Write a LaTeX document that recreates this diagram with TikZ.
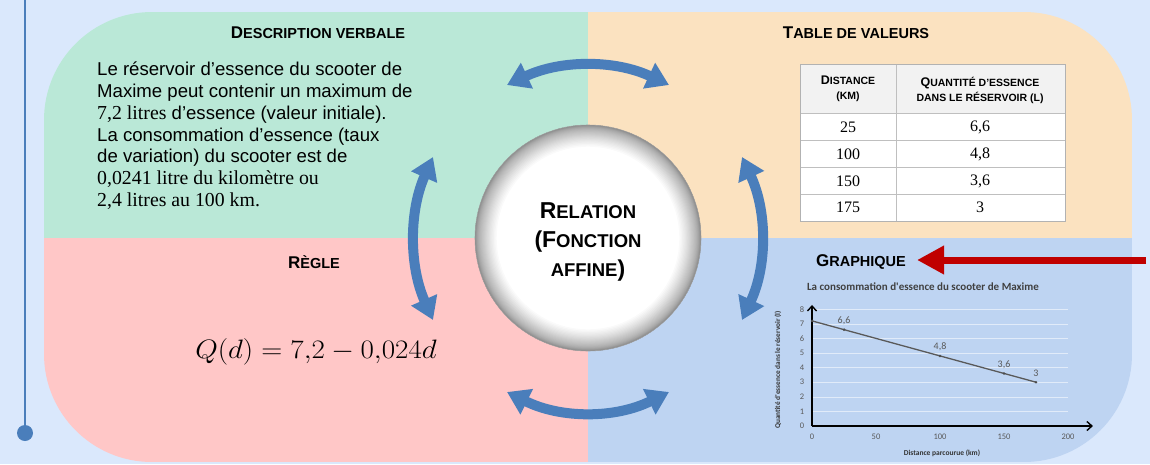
\documentclass[tikz,border=0pt]{standalone}
\usepackage{fontspec}
\usepackage{graphicx}
\setmainfont{Liberation Sans}
\newfontfamily\numfont{Liberation Serif}
\newfontfamily\chartfont{Carlito}
\usetikzlibrary{arrows.meta}

\definecolor{bgblue}{RGB}{218,232,252}
\definecolor{qgreen}{RGB}{186,232,215}
\definecolor{qorange}{RGB}{251,226,192}
\definecolor{qpink}{RGB}{255,199,199}
\definecolor{qblue}{RGB}{190,212,242}
\definecolor{linkblue}{RGB}{74,126,187}
\definecolor{alertred}{RGB}{192,0,0}
\definecolor{chartgray}{RGB}{89,89,89}
\definecolor{tablerule}{RGB}{191,191,191}
\definecolor{tablehead}{RGB}{242,242,242}

% one size for a run of letters (used for the small-caps look)
\newcommand\sz[2]{{\fontsize{#1}{#1}\selectfont #2}}

\begin{document}
\begin{tikzpicture}[x=1pt,y=-1pt,
  heading/.style={font=\bfseries, inner sep=0pt},
  twoway/.style={draw=linkblue, line width=10pt,
    {Triangle[width=27pt,length=22pt]}-{Triangle[width=27pt,length=22pt]}},
  cell/.style={inner sep=0pt, font=\numfont\fontsize{16}{16}\selectfont},
  headcell/.style={inner sep=0pt, align=center, font=\bfseries\fontsize{10.5}{15}\selectfont},
  ticklbl/.style={inner sep=0pt, text=chartgray, font=\chartfont\fontsize{8.5}{8.5}\selectfont},
  ptlbl/.style={inner sep=0pt, text=chartgray, font=\chartfont\fontsize{10}{10}\selectfont},
  axisline/.style={draw=black, line width=1.4pt, -{Straight Barb[length=5pt,width=9pt]}},
]
\useasboundingbox (0,0) rectangle (1150,464);
\fill[bgblue] (0,0) rectangle (1150,464);

% timeline on the left
\node[circle, fill=linkblue, minimum size=16pt, inner sep=0pt] (dot) at (25,433) {};
\coordinate (linetop) at (25,0);
\draw[linkblue, line width=2.5pt] (linetop) -- (dot.center);

% four coloured quadrants inside one rounded panel
\begin{scope}
  \clip[rounded corners=108pt] (44,12) rectangle (1132,462);
  \fill[qgreen]  (44,12)   rectangle (588,238);
  \fill[qorange] (588,12)  rectangle (1132,238);
  \fill[qpink]   (44,238)  rectangle (588,462);
  \fill[qblue]   (588,238) rectangle (1132,462);
\end{scope}

% headings
\node[heading] (hdesc) at (318,33) {\sz{17}{D}\sz{14.5}{ESCRIPTION VERBALE}};
\node[heading] (htable) at (856,33) {\sz{17}{T}\sz{14.5}{ABLE DE VALEURS}};
\node[heading] (hregle) at (314,262) {\sz{17}{R}\sz{14.5}{ÈGLE}};
\node[heading] (hgraph) at (861,262) {\sz{17}{G}\sz{14.5}{RAPHIQUE}};

% verbal description
\node[anchor=north west, inner sep=0pt, align=left,
      font=\fontsize{18.6}{21.7}\selectfont] (desc) at (97,62) {%
Le réservoir d’essence du scooter de\\
Maxime peut contenir un maximum de\\
{\numfont\fontsize{19.8}{21.7}\selectfont 7,2 litres} d’essence (valeur initiale).\\
La consommation d’essence (taux\\
de variation) du scooter est de\\
{\numfont\fontsize{19.8}{21.7}\selectfont 0,0241 litre du kilomètre ou}\\
{\numfont\fontsize{19.8}{21.7}\selectfont 2,4 litres au 100 km.}};

% rule
\node[inner sep=0pt, font=\fontsize{24.88}{26}\selectfont] (rule) at (316,352)
  {\scalebox{1.17}[1.07]{$Q(d)=7{,}2-0{,}024d$}};

% table of values
\fill[tablehead] (800,64) rectangle (1065,113);
\fill[white] (800,113) rectangle (1065,221);
\foreach \yy in {113,140,167,194}
  \draw[tablerule, line width=0.8pt] (800,\yy) -- (1065,\yy);
\draw[tablerule, line width=0.8pt] (896,64) -- (896,221);
\draw[black!30, line width=1pt] (800,64) rectangle (1065,221);
\node[headcell] (th1) at (848,89) {\sz{12.5}{D}ISTANCE\\(KM)};
\node[headcell] (th2) at (980,90) {\sz{12.5}{Q}UANTITÉ D’ESSENCE\\DANS LE RÉSERVOIR (L)};
\node[cell] (d1) at (848,127) {25};  \node[cell] (q1) at (980,127) {6,6};
\node[cell] (d2) at (848,154) {100}; \node[cell] (q2) at (980,154) {4,8};
\node[cell] (d3) at (848,181) {150}; \node[cell] (q3) at (980,181) {3,6};
\node[cell] (d4) at (848,207) {175}; \node[cell] (q4) at (980,207) {3};

% chart
\node[inner sep=0pt, text=black!75, font=\chartfont\bfseries\fontsize{11}{11}\selectfont]
  (ctitle) at (923,287) {La consommation d'essence du scooter de Maxime};
\node[inner sep=0pt, text=black!80, font=\chartfont\bfseries\fontsize{7.5}{7.5}\selectfont]
  (xtitle) at (942,453) {Distance parcourue (km)};
\node[inner sep=0pt, rotate=90, text=black!80, font=\chartfont\bfseries\fontsize{7.3}{7.3}\selectfont]
  (ytitle) at (778,370) {Quantité d'essence dans le réservoir (l)};
\begin{scope}[shift={(812,426)}, x=1.28pt, y=14.6pt]
  \foreach \k in {1,...,8}
    \draw[white, opacity=0.55, line width=0.6pt] (0,\k) -- (200,\k);
  \foreach \k in {0,...,8}
    \node[ticklbl] at ([xshift=-10pt]0,\k) {\k};
  \foreach \v in {0,50,100,150,200}
    \node[ticklbl] at ([yshift=-11pt]\v,0) {\v};
  \coordinate (origin) at (0,0);
  \coordinate (ytip) at (0,8.29);
  \coordinate (xtip) at (219.5,0);
  \draw[axisline] (origin) -- (ytip);
  \draw[axisline] (origin) -- (xtip);
  \coordinate (p0) at (0,7.2);
  \coordinate (p1) at (25,6.6);
  \coordinate (p2) at (100,4.8);
  \coordinate (p3) at (150,3.6);
  \coordinate (p4) at (175,3);
  \draw[chartgray, line width=1.3pt] (p0) -- (p4);
  \foreach \p in {p0,p1,p2,p3,p4}
    \fill[black!70] (\p) circle (1.4pt);
  \node[ptlbl] at ([yshift=8.5pt]p1) {6,6};
  \node[ptlbl] at ([yshift=9pt]p2) {4,8};
  \node[ptlbl] at ([yshift=9pt]p3) {3,6};
  \node[ptlbl] at ([yshift=8.5pt]p4) {3};
\end{scope}

% pointer to the chart heading
\coordinate (redtail) at (1146,260);
\coordinate (redtip) at (917,260);
\draw[alertred, line width=7pt, -{Triangle[width=27pt,length=27pt]}] (redtail) -- (redtip);

% central bubble: white disc with a soft grey rim made of stacked translucent annuli
\node[circle, minimum size=226pt, inner sep=0pt, fill=white] (rel) at (588,238) {};
\foreach \i in {0,...,29} {
  \pgfmathsetmacro\rin{112.8-23*(\i/30)^2}
  \fill[black, opacity=0.021, even odd rule]
    (rel.center) circle (113) (rel.center) circle (\rin);
}
\draw[black!38, line width=0.6pt] (rel.center) circle (113);
\node[inner sep=0pt, align=center, font=\bfseries\fontsize{18.5}{29}\selectfont]
  (reltext) at (588,242) {\sz{23}{R}ELATION\\\sz{23}{(F}ONCTION\\AFFINE\sz{23}{)}};

% two-way links between the quadrants
\coordinate (topL) at (507,85);   \coordinate (topR) at (669,85);
\coordinate (botL) at (507,392);  \coordinate (botR) at (669,392);
\coordinate (lefT) at (433,157);  \coordinate (lefB) at (433,320);
\coordinate (rigT) at (742,157);  \coordinate (rigB) at (742,320);
\draw[twoway] (topL) .. controls (561,59.7) and (615,59.7) .. (topR);
\draw[twoway] (botL) .. controls (561,418.7) and (615,418.7) .. (botR);
\draw[twoway] (lefT) .. controls (409,211.3) and (409,265.7) .. (lefB);
\draw[twoway] (rigT) .. controls (767.3,211.3) and (767.3,265.7) .. (rigB);
\end{tikzpicture}
\end{document}
